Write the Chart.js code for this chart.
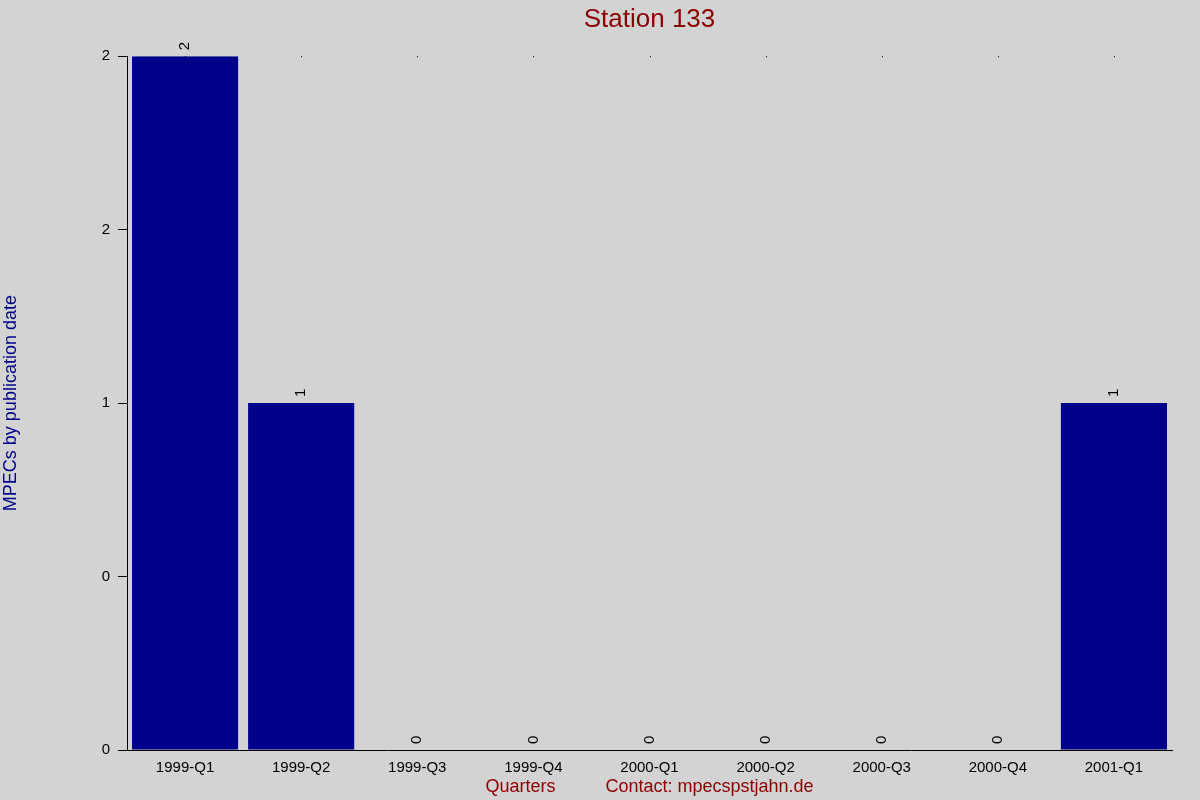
<!DOCTYPE html>
<html>
<head>
<meta charset="utf-8">
<script src="https://cdn.jsdelivr.net/npm/chart.js@4.4.1/dist/chart.umd.min.js"></script>
<style>
  html, body { margin: 0; padding: 0; background: #d3d3d3; }
</style>
</head>
<body>
<canvas id="stationChart" width="1200" height="800"></canvas>
<script>
// chart data
var quarters = ["1999-Q1", "1999-Q2", "1999-Q3", "1999-Q4", "2000-Q1", "2000-Q2", "2000-Q3", "2000-Q4", "2001-Q1"];
var mpecCounts = [2, 1, 0, 0, 0, 0, 0, 0, 1];
var yTickValues = [0, 0.5, 1, 1.5, 2];
var yTickLabels = ["0", "0", "1", "2", "2"];

var FONT = "'Liberation Sans', Arial, sans-serif";

// grey background over the whole canvas
var backgroundPlugin = {
  id: "bg",
  beforeDraw: function (chart) {
    var ctx = chart.ctx;
    ctx.save();
    ctx.fillStyle = "#d3d3d3";
    ctx.fillRect(0, 0, chart.width, chart.height);
    ctx.restore();
  }
};

// rotated value labels above the bars + the little dots along the top
var valueLabelPlugin = {
  id: "valueLabels",
  afterDatasetsDraw: function (chart) {
    var ctx = chart.ctx;
    var meta = chart.getDatasetMeta(0);
    var xScale = chart.scales.x;
    ctx.save();
    ctx.fillStyle = "#000";
    quarters.forEach(function (q, i) {
      var px = Math.round(xScale.getPixelForValue(i));
      ctx.fillRect(px, chart.chartArea.top, 1, 1);
    });
    ctx.font = "15px " + FONT;
    ctx.textAlign = "left";
    ctx.textBaseline = "middle";
    meta.data.forEach(function (bar, i) {
      ctx.save();
      ctx.translate(bar.x, bar.y - 6);
      ctx.rotate(-Math.PI / 2);
      ctx.fillText(String(mpecCounts[i]), 0, 0);
      ctx.restore();
    });
    ctx.restore();
  }
};

var ctx = document.getElementById("stationChart").getContext("2d");

var stationChart = new Chart(ctx, {
  type: "bar",
  data: {
    labels: quarters,
    datasets: [
      {
        label: "MPECs",
        data: mpecCounts,
        backgroundColor: "#00008b",
        borderWidth: 0,
        barPercentage: 0.914,
        categoryPercentage: 1.0
      }
    ]
  },
  options: {
    responsive: false,
    devicePixelRatio: 1,
    animation: false,
    layout: {
      padding: { left: 0, right: 28, top: 0, bottom: 0 }
    },
    plugins: {
      legend: { display: false },
      tooltip: { enabled: false },
      title: {
        display: true,
        fullSize: false,
        text: "Station 133",
        color: "#8b0000",
        font: { family: FONT, size: 26, weight: "normal" },
        padding: { top: 4, bottom: 21 }
      }
    },
    scales: {
      x: {
        grid: { drawOnChartArea: false, drawTicks: false },
        border: { display: true, color: "#000", width: 1 },
        ticks: {
          color: "#000",
          font: { family: FONT, size: 15 },
          padding: 9,
          maxRotation: 0,
          autoSkip: false
        },
        title: {
          display: true,
          text: "Quarters          Contact: mpecspstjahn.de",
          color: "#8b0000",
          font: { family: FONT, size: 18 },
          padding: { top: 0, bottom: 2 }
        },
        afterFit: function (scale) {
          scale.height = 50;
        }
      },
      y: {
        min: 0,
        max: 2,
        afterBuildTicks: function (scale) {
          scale.ticks = yTickValues.map(function (v) { return { value: v }; });
        },
        grid: { drawOnChartArea: false, drawTicks: true, tickLength: 9, color: "#000" },
        border: { display: true, color: "#000", width: 1 },
        ticks: {
          color: "#000",
          font: { family: FONT, size: 15 },
          padding: 8,
          callback: function (value, index) {
            return yTickLabels[index];
          }
        },
        title: {
          display: true,
          text: "MPECs by publication date",
          color: "#00008b",
          font: { family: FONT, size: 18 },
          padding: { top: 0, bottom: 0 }
        },
        afterFit: function (scale) {
          scale.width = 127;
        }
      }
    }
  },
  plugins: [backgroundPlugin, valueLabelPlugin]
});
</script>
</body>
</html>
